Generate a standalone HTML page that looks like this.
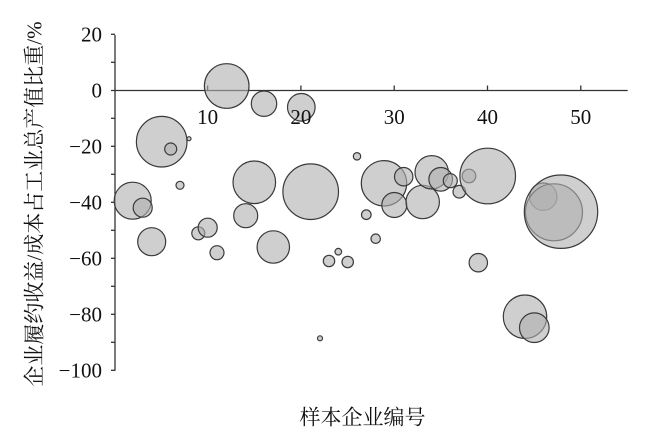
<!DOCTYPE html>
<html><head><meta charset="utf-8"><style>
html,body{margin:0;padding:0;background:#fff;}
svg{display:block;}
text{font-family:"Liberation Serif","Noto Serif CJK SC",serif;fill:#111;}
</style></head><body>
<svg width="650" height="447" viewBox="0 0 650 447" xmlns="http://www.w3.org/2000/svg">
<g stroke="#333" stroke-width="1.3" fill="none">
<line x1="115" y1="35" x2="115" y2="370.7"/>
<line x1="111" y1="90.5" x2="627.7" y2="90.5"/>
<line x1="111" y1="34.3" x2="115" y2="34.3"/>
<line x1="111" y1="62.3" x2="115" y2="62.3"/>
<line x1="111" y1="118.3" x2="115" y2="118.3"/>
<line x1="111" y1="146.3" x2="115" y2="146.3"/>
<line x1="111" y1="174.3" x2="115" y2="174.3"/>
<line x1="111" y1="202.3" x2="115" y2="202.3"/>
<line x1="111" y1="230.3" x2="115" y2="230.3"/>
<line x1="111" y1="258.3" x2="115" y2="258.3"/>
<line x1="111" y1="286.3" x2="115" y2="286.3"/>
<line x1="111" y1="314.3" x2="115" y2="314.3"/>
<line x1="111" y1="342.3" x2="115" y2="342.3"/>
<line x1="111" y1="370.3" x2="115" y2="370.3"/>
<line x1="207.6" y1="85.5" x2="207.6" y2="90.5"/>
<line x1="300.9" y1="85.5" x2="300.9" y2="90.5"/>
<line x1="394.2" y1="85.5" x2="394.2" y2="90.5"/>
<line x1="487.5" y1="85.5" x2="487.5" y2="90.5"/>
<line x1="580.8" y1="85.5" x2="580.8" y2="90.5"/>
</g>
<g font-size="21" text-anchor="end">
<text x="102" y="41.5">20</text>
<text x="102" y="97.5">0</text>
<text x="102" y="153.5">−20</text>
<text x="102" y="209.5">−40</text>
<text x="102" y="265.5">−60</text>
<text x="102" y="321.5">−80</text>
<text x="102" y="377.5">−100</text>
</g>
<g fill="rgb(175,175,175)" fill-opacity="0.6" stroke="#3a3a3a" stroke-width="1.2">
<circle cx="132.7" cy="200.7" r="18.5"/>
<circle cx="142.7" cy="207.7" r="9.5"/>
<circle cx="151.7" cy="241.7" r="14"/>
<circle cx="161.7" cy="141.7" r="25.3"/>
<circle cx="170.7" cy="149" r="6"/>
<circle cx="180" cy="185.3" r="4"/>
<circle cx="189" cy="138.7" r="2"/>
<circle cx="198.3" cy="233.3" r="6.5"/>
<circle cx="207.7" cy="227.7" r="9.5"/>
<circle cx="217" cy="252.7" r="7"/>
<circle cx="226.7" cy="86" r="22.3"/>
<circle cx="245.7" cy="215.7" r="12"/>
<circle cx="254.3" cy="182.3" r="21.3"/>
<circle cx="264" cy="103.7" r="12.7"/>
<circle cx="273.3" cy="247" r="16.2"/>
<circle cx="301.3" cy="107.3" r="13.8"/>
<circle cx="310.7" cy="191.7" r="27.8"/>
<circle cx="320" cy="338.3" r="2.5"/>
<circle cx="329" cy="261" r="5.7"/>
<circle cx="338.3" cy="251.7" r="3.3"/>
<circle cx="347.7" cy="262" r="5.7"/>
<circle cx="357" cy="156.3" r="3.7"/>
<circle cx="366.3" cy="214.7" r="4.8"/>
<circle cx="375.7" cy="238.7" r="4.7"/>
<circle cx="384" cy="183.3" r="22.7"/>
<circle cx="394.3" cy="205" r="12.5"/>
<circle cx="403.7" cy="176.7" r="9.2"/>
<circle cx="422.7" cy="202" r="16.7"/>
<circle cx="431.7" cy="172.3" r="16.7"/>
<circle cx="440.7" cy="179.3" r="11.8"/>
<circle cx="450.3" cy="180.7" r="7"/>
<circle cx="459.3" cy="191.7" r="6.3"/>
<circle cx="469" cy="176" r="6.8"/>
<circle cx="478.3" cy="262.7" r="9.2"/>
<circle cx="487.7" cy="176" r="27.8"/>
<circle cx="525" cy="316.7" r="21.7"/>
<circle cx="534.3" cy="327.7" r="14.8"/>
<circle cx="543.3" cy="196.7" r="13.7"/>
<circle cx="554" cy="212.3" r="28.5"/>
<circle cx="561" cy="211.7" r="36.7"/>
</g>
<g font-size="21" text-anchor="middle">
<text x="207.6" y="124">10</text>
<text x="300.9" y="124">20</text>
<text x="394.2" y="124">30</text>
<text x="487.5" y="124">40</text>
<text x="580.8" y="124">50</text>
</g>
<text x="362.5" y="424.5" font-size="21" text-anchor="middle">样本企业编号</text>
<text transform="translate(41.5,204) rotate(-90)" font-size="21" text-anchor="middle">企业履约收益/成本占工业总产值比重/%</text>
</svg>
</body></html>
